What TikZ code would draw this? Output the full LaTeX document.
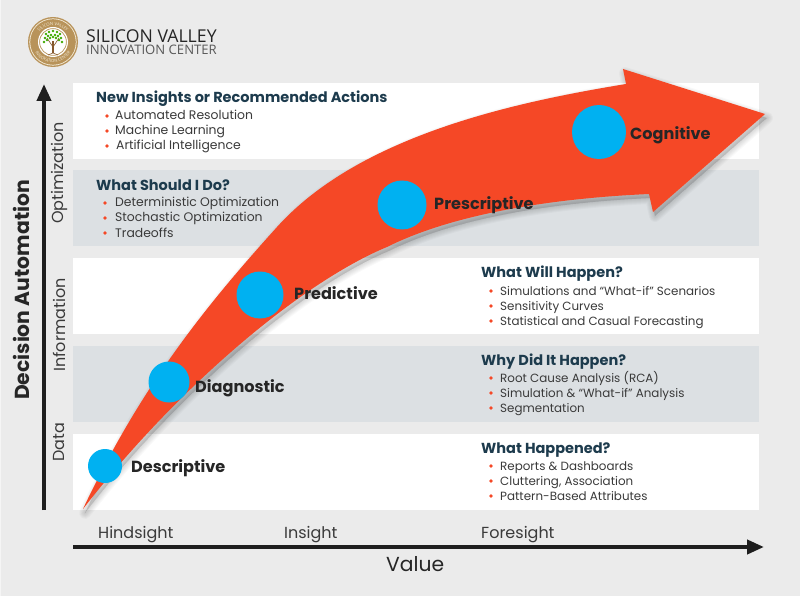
\documentclass[tikz,border=0pt]{standalone}
\usepackage{fontspec}
\setmainfont{Poppins}
\newfontfamily\logofont{Open Sans}
\usetikzlibrary{arrows.meta,decorations.text}
\definecolor{bgc}{HTML}{EBEBEB}
\definecolor{bandg}{HTML}{DCE0E3}
\definecolor{heada}{HTML}{1D3B4D}
\definecolor{itemc}{HTML}{3A3A3A}
\definecolor{redc}{HTML}{F54826}
\definecolor{bluec}{HTML}{00B1F1}
\definecolor{axisc}{HTML}{1E1E1E}
\definecolor{goldc}{HTML}{B8935A}
\definecolor{creamc}{HTML}{F6EFDD}
\tikzset{
  x=1pt,y=-1pt,
  band/.style={fill=#1,draw=none},
  heading/.style={anchor=base west,inner sep=0,font=\fontsize{14.5}{15}\selectfont\bfseries,text=heada},
  item/.style={anchor=base west,inner sep=0,font=\fontsize{12.4}{13}\selectfont,text=itemc},
  itemr/.style={anchor=base west,inner sep=0,font=\fontsize{11.9}{13}\selectfont,text=itemc},
  stage/.style={anchor=base west,inner sep=0,font=\fontsize{16.1}{16}\selectfont\bfseries,text=black!85},
  rowlab/.style={inner sep=0,rotate=90,font=\fontsize{16}{16}\selectfont,text=itemc},
  vallab/.style={anchor=base west,inner sep=0,font=\fontsize{16}{16}\selectfont,text=itemc},
  bul/.style={circle,fill=redc,inner sep=0,minimum size=3.8pt},
  dot/.style={circle,fill=bluec,inner sep=0,minimum size=#1},
  axisline/.style={draw=axisc,line width=4pt,-{Triangle[width=14pt,length=17pt]}},
}
\newcommand{\arrowshape}{(83,509) .. controls (143,381) and (213,298) .. (277,227) .. controls (360,135) and (516,102) .. (626,84) -- (623,69) -- (765,114) -- (653,212) -- (649,194) .. controls (560,198) and (457,212) .. (387,247) .. controls (300,283) and (175,390) .. (83,509) -- cycle}
\begin{document}
\begin{tikzpicture}
\useasboundingbox (0,0) rectangle (800,596);
\fill[bgc] (0,0) rectangle (800,596);
\fill[white!50!bgc] (0,0) rectangle (1,596);
% bands
\fill[band=white] (73,83) rectangle (759,159);
\fill[band=bandg] (73,170) rectangle (759,246);
\fill[band=white] (73,258) rectangle (759,334);
\fill[band=bandg] (73,346) rectangle (759,422);
\fill[band=white] (73,434) rectangle (759,510);
% logo
\fill[goldc] (53,42) circle (25);
\fill[creamc] (53,42) circle (23.6);
\fill[goldc] (53,42) circle (22.8);
\fill[white] (53,42) circle (15);
\draw[goldc,line width=.7pt] (53,42) circle (13.4);
\begin{scope}[shift={(53,42)},y=1pt]
\path[decorate,decoration={text along path,text align=center,text={|\logofont\fontsize{4.2}{4}\selectfont\color{creamc}|SILICON VALLEY}}]
  (-17,0) arc[start angle=180,end angle=0,radius=17];
\path[decorate,decoration={text along path,text align=center,text={|\logofont\fontsize{4.2}{4}\selectfont\color{creamc}|INNOVATION CENTER}}]
  (-20.5,0) arc[start angle=180,end angle=360,radius=20.5];
\end{scope}
\draw[brown!70!black,line width=1.3pt] (53,53) -- (53,41);
\draw[brown!70!black,line width=.6pt] (53,47) -- (47,38) (53,47) -- (59,38) (53,53) -- (48,55) (53,53) -- (58,55);
\foreach \a/\b in {46/34,49/32,53/31,57/32,60/34,45/38,48/36,51/35,55/35,58/36,61/38,47/40,50/38,53/37,56/38,59/40,44/42,62/42}
  \fill[green!55!black!75!yellow] (\a,\b) circle (1.4);
% logo text
\node[anchor=base west,inner sep=0,font=\logofont\fontsize{17.7}{18}\selectfont,text=black!85] (lt1) at (86,43) {SILICON VALLEY};
\node[anchor=base west,inner sep=0,font=\logofont\fontsize{13.1}{14}\selectfont,text=black!65] (lt2) at (86,55) {INNOVATION CENTER};
% headings and items
\node[heading] (h1) at (96,103) {New Insights or Recommended Actions};
\node[item] (i11) at (115,120) {Automated Resolution};
\node[item] (i12) at (115,135) {Machine Learning};
\node[item] (i13) at (116,150) {Artificial Intelligence};
\node[heading] (h2) at (96,190) {What Should I Do?};
\node[item] (i21) at (115,207) {Deterministic Optimization};
\node[item] (i22) at (115,222) {Stochastic Optimization};
\node[item] (i23) at (115,237) {Tradeoffs};
\node[heading] (h3) at (481,277) {What Will Happen?};
\node[itemr] (i31) at (500,295) {Simulations and “What-if” Scenarios};
\node[itemr] (i32) at (500,310) {Sensitivity Curves};
\node[itemr] (i33) at (500,325) {Statistical and Casual Forecasting};
\node[heading] (h4) at (481,365) {Why Did It Happen?};
\node[itemr] (i41) at (500,382) {Root Cause Analysis (RCA)};
\node[itemr] (i42) at (500,397) {Simulation \& “What-if” Analysis};
\node[itemr] (i43) at (500,412) {Segmentation};
\node[heading] (h5) at (481,453) {What Happened?};
\node[itemr] (i51) at (500,470) {Reports \& Dashboards};
\node[itemr] (i52) at (500,485) {Cluttering, Association};
\node[itemr] (i53) at (500,500) {Pattern-Based Attributes};
\foreach \n/\a/\b in {b11/107/116,b12/107/131,b13/107/146,b21/105/203,b22/105/218,b23/105/233,b31/491/291,b32/491/306,b33/491/321,b41/491/378,b42/491/393,b43/491/408,b51/491/466,b52/491/481,b53/491/496}
  \node[bul] (\n) at (\a,\b) {};
% arrow shadow
\begin{scope}[shift={(2,4)}]
\foreach \w in {12,10,8,6,4,2}
  \path[fill=black,draw=black,fill opacity=.025,draw opacity=.025,line width=\w pt,line join=round] \arrowshape;
\end{scope}
\fill[redc] \arrowshape;
% circles
\node[dot=34pt] (c1) at (105,466) {};
\node[dot=41pt] (c2) at (169,382) {};
\node[dot=47pt] (c3) at (260,295) {};
\node[dot=49pt] (c4) at (402,205) {};
\node[dot=54pt] (c5) at (599,132) {};
\node[stage] (s1) at (131,472) {Descriptive};
\node[stage] (s2) at (195,392) {Diagnostic};
\node[stage] (s3) at (294,299) {Predictive};
\node[stage] (s4) at (434,209) {Prescriptive};
\node[stage] (s5) at (630,140) {Cognitive};
% axes
\coordinate (yb) at (44,510);
\coordinate (yt) at (44,84);
\coordinate (xb) at (73,547);
\coordinate (xt) at (764,547);
\draw[axisline] (yb) -- (yt);
\draw[axisline] (xb) -- (xt);
\node[rowlab] (r1) at (59,173) {Optimization};
\node[rowlab] (r2) at (59,325) {Information};
\node[rowlab] (r3) at (59,442) {Data};
\node[inner sep=0,rotate=90,font=\fontsize{20.3}{20}\selectfont\bfseries,text=black!85] (ya) at (21,290) {Decision Automation};
\node[vallab] (v1) at (98,538) {Hindsight};
\node[vallab] (v2) at (284,538) {Insight};
\node[vallab] (v3) at (481,538) {Foresight};
\node[anchor=base west,inner sep=0,font=\fontsize{20.3}{20}\selectfont,text=black!85] (xa) at (386,571) {Value};
\end{tikzpicture}
\end{document}
